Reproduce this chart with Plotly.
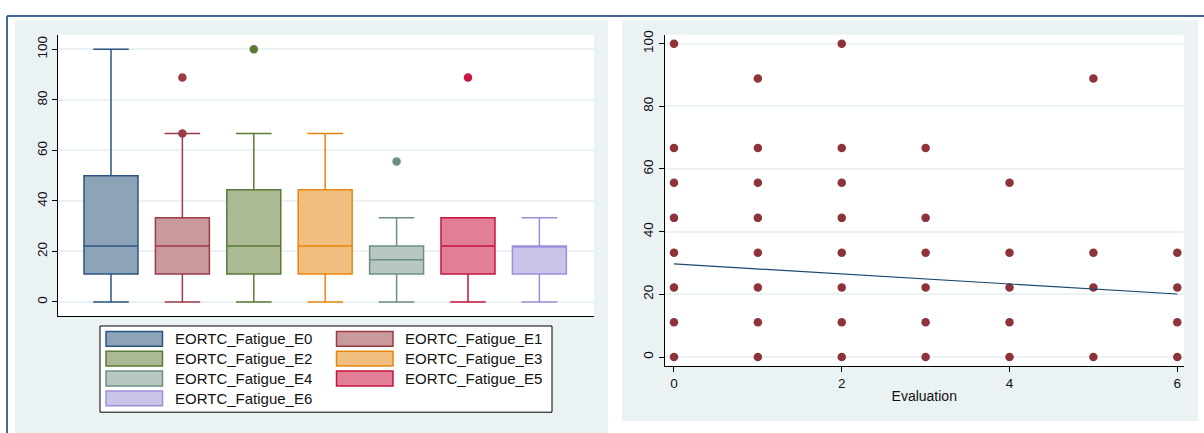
import plotly.graph_objects as go

W, H = 1204, 433

# ---------------- data ----------------
categories = ["EORTC_Fatigue_E0", "EORTC_Fatigue_E1", "EORTC_Fatigue_E2",
              "EORTC_Fatigue_E3", "EORTC_Fatigue_E4", "EORTC_Fatigue_E5",
              "EORTC_Fatigue_E6"]
box_lower = [0, 0, 0, 0, 0, 0, 0]
box_q1 = [11.1, 11.1, 11.1, 11.1, 11.1, 11.1, 11.1]
box_median = [22.2, 22.2, 22.2, 22.2, 16.7, 22.2, 22.2]
box_q3 = [50.0, 33.3, 44.4, 44.4, 22.2, 33.3, 22.2]
box_upper = [100, 66.7, 66.7, 66.7, 33.3, 33.3, 33.3]
box_outliers = [[], [66.7, 88.9], [100], [], [55.6], [88.9], []]

evaluations = [0, 1, 2, 3, 4, 5, 6]
scores_by_eval = [
    [100, 66.7, 55.6, 44.4, 33.3, 22.2, 11.1, 0],
    [88.9, 66.7, 55.6, 44.4, 33.3, 22.2, 11.1, 0],
    [100, 66.7, 55.6, 44.4, 33.3, 22.2, 11.1, 0],
    [66.7, 44.4, 33.3, 22.2, 11.1, 0],
    [55.6, 33.3, 22.2, 11.1, 0],
    [88.9, 33.3, 22.2, 0],
    [33.3, 22.2, 11.1, 0],
]
fit_x = [0, 6]
fit_y = [29.7, 20.1]

y_ticks = [0, 20, 40, 60, 80, 100]
x_ticks_right = [0, 2, 4, 6]

# ---------------- styles ----------------
fills = ["#8CA3B8", "#C99A9C", "#ABB994", "#F0BE7E", "#B6C8C1", "#E07F96", "#C9C5E9"]
lines = ["#2A5582", "#9C3A45", "#5B7A35", "#E8850E", "#6E8E84", "#C8143F", "#9A90DC"]
PANEL = "#EAF2F3"
FONT = "Liberation Sans, Arial, sans-serif"


def px(x):
    return x / W


def py(y):
    return 1 - y / H


fig = go.Figure()

for i, name in enumerate(categories):
    fig.add_trace(go.Box(
        x=[i], q1=[box_q1[i]], median=[box_median[i]], q3=[box_q3[i]],
        lowerfence=[box_lower[i]], upperfence=[box_upper[i]],
        width=0.756, whiskerwidth=0.66,
        fillcolor=fills[i], line=dict(color=lines[i], width=1.5),
        boxpoints=False, name=name, showlegend=False, hoverinfo="skip",
        xaxis="x", yaxis="y"))
    if box_outliers[i]:
        fig.add_trace(go.Scatter(
            x=[i] * len(box_outliers[i]), y=box_outliers[i], mode="markers",
            marker=dict(color=lines[i], size=8.5), showlegend=False,
            xaxis="x", yaxis="y"))

sx, sy = [], []
for ev, vals in zip(evaluations, scores_by_eval):
    sx += [ev] * len(vals)
    sy += vals
fig.add_trace(go.Scatter(x=sx, y=sy, mode="markers",
                         marker=dict(color="#8E3339", size=8.5),
                         showlegend=False, xaxis="x2", yaxis="y2"))
fig.add_trace(go.Scatter(x=fit_x, y=fit_y, mode="lines",
                         line=dict(color="#1A476F", width=1.2),
                         showlegend=False, xaxis="x2", yaxis="y2"))

shapes = [
    # panel backgrounds
    dict(type="rect", xref="paper", yref="paper", x0=px(15), x1=px(608),
         y0=py(433), y1=py(16.7), fillcolor=PANEL, line=dict(width=0), layer="below"),
    dict(type="rect", xref="paper", yref="paper", x0=px(622), x1=px(1198),
         y0=py(421), y1=py(16.7), fillcolor=PANEL, line=dict(width=0), layer="below"),
    # plot areas
    dict(type="rect", xref="paper", yref="paper", x0=px(58.3), x1=px(594),
         y0=py(315.3), y1=py(31), fillcolor="white", line=dict(width=0), layer="below"),
    dict(type="rect", xref="paper", yref="paper", x0=px(664.5), x1=px(1184),
         y0=py(365), y1=py(31), fillcolor="white", line=dict(width=0), layer="below"),
    # outer frame lines
    dict(type="line", xref="paper", yref="paper", x0=px(7), x1=1, y0=py(12), y1=py(12),
         line=dict(color="#46679A", width=2)),
    dict(type="line", xref="paper", yref="paper", x0=px(7), x1=px(7), y0=py(12), y1=0,
         line=dict(color="#46679A", width=2)),
    # legend box
    dict(type="rect", xref="paper", yref="paper", x0=px(100), x1=px(552),
         y0=py(412), y1=py(325), fillcolor="white", line=dict(color="black", width=1)),
]
annotations = []
for i, name in enumerate(categories):
    row, col = i // 2, i % 2
    yc = 338 + 20 * row
    sx0 = 106 if col == 0 else 336.5
    tx = 172.6 if col == 0 else 403
    shapes.append(dict(type="rect", xref="paper", yref="paper",
                       x0=px(sx0), x1=px(sx0 + 56.5), y0=py(yc + 7.5), y1=py(yc - 7.5),
                       fillcolor=fills[i], line=dict(color=lines[i], width=1.5)))
    annotations.append(dict(xref="paper", yref="paper", x=px(tx), y=py(yc),
                            text=name, showarrow=False, xanchor="left", yanchor="middle",
                            font=dict(family=FONT, size=15, color="#111")))

axis_common = dict(showline=True, linecolor="black", linewidth=1, zeroline=False,
                   tickfont=dict(family=FONT, size=13.5, color="#111"))

fig.update_layout(
    width=W, height=H, margin=dict(l=0, r=0, t=0, b=0),
    paper_bgcolor="white", plot_bgcolor="white",
    boxmode="overlay", showlegend=False,
    shapes=shapes, annotations=annotations,
    xaxis=dict(domain=[px(58.3), px(594)], anchor="y", range=[-0.738, 6.765],
               showticklabels=False, ticks="", showgrid=False, **axis_common),
    yaxis=dict(domain=[py(315.3), py(31)], anchor="x", range=[-5.7, 105.8],
               tickvals=y_ticks, ticks="outside", ticklen=5, tickcolor="black",
               tickangle=-90, showgrid=True, gridcolor=PANEL, gridwidth=1.5,
               **axis_common),
    xaxis2=dict(domain=[px(664.5), px(1184)], anchor="y2", range=[-0.113, 6.08],
                tickvals=x_ticks_right, ticks="outside", ticklen=5, tickcolor="black",
                showgrid=False,
                title=dict(text="Evaluation", standoff=1,
                           font=dict(family=FONT, size=14, color="#111")),
                **axis_common),
    yaxis2=dict(domain=[py(365), py(31)], anchor="x2", range=[-2.75, 102.85],
                tickvals=y_ticks, ticks="outside", ticklen=5, tickcolor="black",
                tickangle=-90, showgrid=True, gridcolor=PANEL, gridwidth=1.5,
                **axis_common),
)

fig.write_html("out.html")
